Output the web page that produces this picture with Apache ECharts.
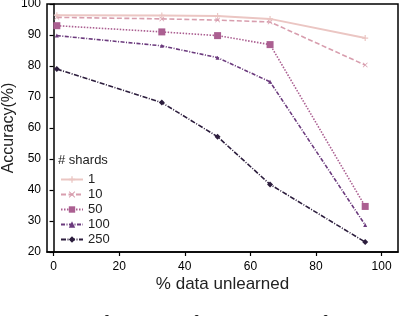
<!DOCTYPE html>
<html><head><meta charset="utf-8">
<script src="https://cdn.jsdelivr.net/npm/echarts@6/dist/echarts.min.js"></script>
<style>html,body{margin:0;padding:0;background:#fff}#c{width:400px;height:316px}</style>
</head><body><div id="c"></div>
<script>
const xValues = [1, 33, 50, 66, 95];
const shardNames = ['1', '10', '50', '100', '250'];
const acc1 = [96.4, 96.3, 96.1, 95.2, 89.0];
const acc10 = [95.7, 95.2, 94.8, 94.2, 80.3];
const acc50 = [93.0, 91.0, 89.8, 86.9, 34.7];
const acc100 = [89.8, 86.5, 82.7, 74.9, 28.7];
const acc250 = [79.0, 68.2, 57.2, 41.8, 23.2];
const xTicks = [0, 20, 40, 60, 80, 100];

const colors = ['#ebc6c3', '#d89eae', '#ab5f91', '#6b3a7d', '#2c1d3d'];
const allAcc = [acc1, acc10, acc50, acc100, acc250];
const dashes = ['solid', [5, 2.5], [1.5, 1.5], [4, 1.5, 1, 1.5], [5, 1.5, 1, 1.5]];
const plus = 'path://M4,0 L6,0 L6,4 L10,4 L10,6 L6,6 L6,10 L4,10 L4,6 L0,6 L0,4 L4,4 Z';
const xmark = 'path://M1,0 L5,4 L9,0 L10,1 L6,5 L10,9 L9,10 L5,6 L1,10 L0,9 L4,5 L0,1 Z';
const symbols = [plus, xmark, 'rect', 'triangle', 'diamond'];
const symSizes = [6, 5, 7, 4, 6];

const series = shardNames.map((n, i) => ({
  name: n, type: 'line',
  data: xValues.map((x, j) => [x, allAcc[i][j]]),
  symbol: symbols[i], symbolSize: symSizes[i], showSymbol: true,
  itemStyle: { color: colors[i] },
  lineStyle: { color: colors[i], width: i === 0 ? 2 : 1.6, type: dashes[i] },
  z: 10 - i
}));

const chart = echarts.init(document.getElementById('c'), null, { renderer: 'canvas' });
chart.setOption({
  animation: false,
  textStyle: { fontFamily: 'Liberation Sans, Arial, sans-serif' },
  grid: { left: 47, right: 2, top: 4, bottom: 64, containLabel: false, outerBoundsMode: 'none',
          show: true, borderColor: '#000', borderWidth: 1.5, backgroundColor: 'transparent' },
  xAxis: {
    type: 'value', min: -2, max: 105,
    splitLine: { show: false },
    axisLine: { show: true, onZero: false, lineStyle: { color: '#000', width: 1.5 } },
    axisTick: { show: true, length: 4, lineStyle: { color: '#000', width: 1.2 }, customValues: xTicks },
    axisLabel: { color: '#000', fontSize: 12, margin: 9, customValues: xTicks },
    name: '% data unlearned', nameLocation: 'middle', nameGap: 24, nameMoveOverlap: false,
    nameTextStyle: { color: '#222', fontSize: 17 }
  },
  yAxis: {
    type: 'value', min: 20, max: 100, interval: 10,
    splitLine: { show: false },
    axisLine: { show: true, lineStyle: { color: '#000', width: 1.5 } },
    axisTick: { show: true, length: 4, lineStyle: { color: '#000', width: 1.2 } },
    axisLabel: { color: '#000', fontSize: 12, margin: 6 },
    name: 'Accuracy(%)', nameLocation: 'middle', nameGap: 30, nameRotate: 90, nameMoveOverlap: false,
    nameTextStyle: { color: '#222', fontSize: 16 }
  },
  legend: {
    orient: 'vertical', left: 55, top: 168, itemWidth: 22, itemHeight: 8, itemGap: 2,
    textStyle: { color: '#222', fontSize: 13 },
    data: shardNames
  },
  graphic: [
    { type: 'text', left: 58, top: 154, style: { text: '# shards', fill: '#222', font: '13px Liberation Sans, Arial, sans-serif' } },
    { type: 'text', left: 86, top: 313, style: { text: 'a function of the number of shards', fill: '#111', font: '22px Liberation Serif, serif' } }
  ],
  series: series
});
</script></body></html>
